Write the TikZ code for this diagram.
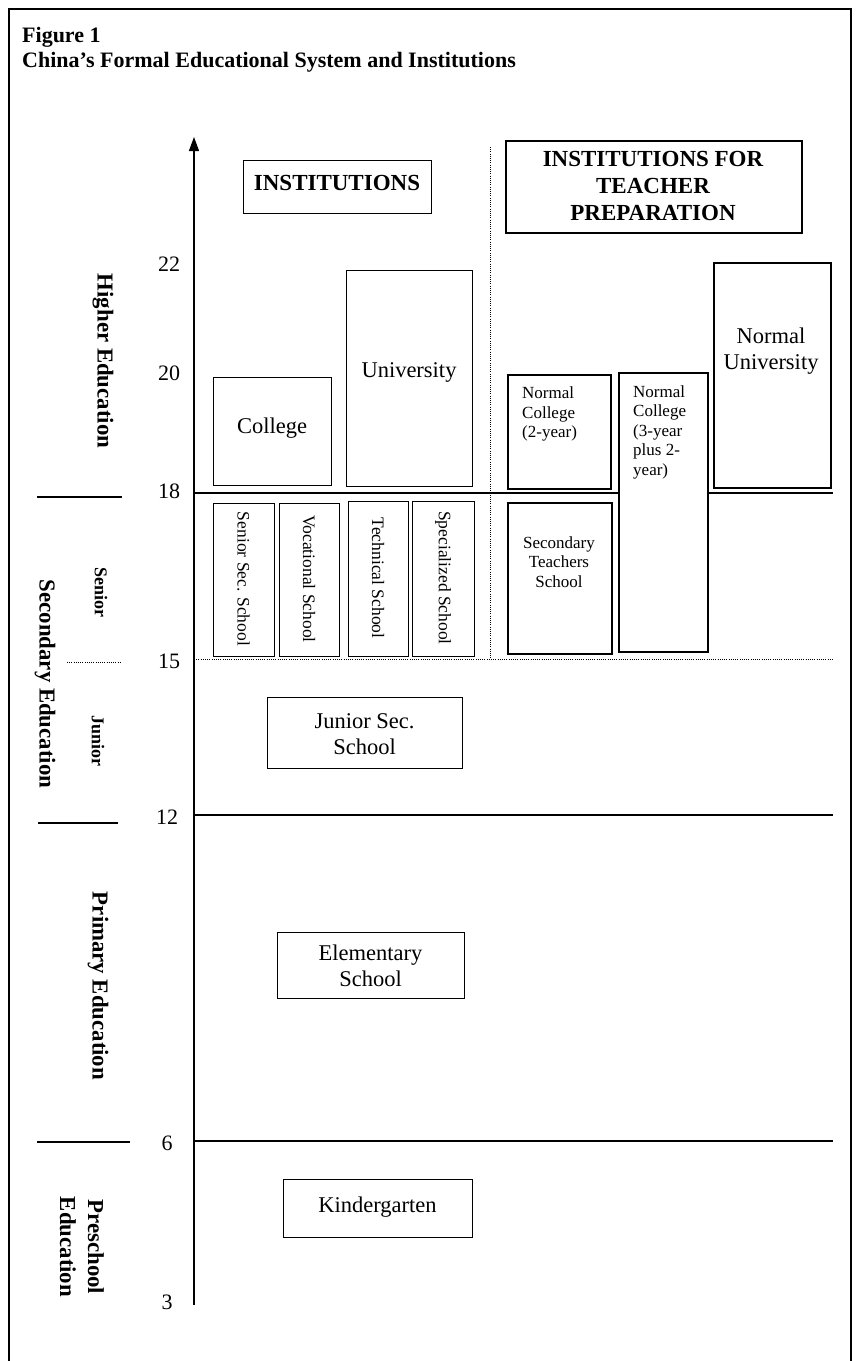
\documentclass[tikz,border=0pt]{standalone}
\usepackage{fontspec}
\setmainfont{Liberation Serif}
\usetikzlibrary{arrows.meta}
\begin{document}
\begin{tikzpicture}[x=1pt,y=-1pt,
  inst/.style={draw,line width=1.1pt,fill=white,inner sep=0pt,anchor=north west},
  tinst/.style={draw,line width=1.8pt,fill=white,inner sep=0pt,anchor=north west},
  lbl/.style={inner sep=0pt,font=\fontsize{22.5}{26}\selectfont,align=center},
  smalltxt/.style={inner sep=0pt,font=\fontsize{17}{19.5}\selectfont},
  vlbl/.style={inner sep=0pt,rotate=-90,font=\fontsize{17.5}{20}\selectfont},
  num/.style={inner sep=0pt,font=\fontsize{22}{26}\selectfont},
  side/.style={inner sep=0pt,rotate=-90,font=\bfseries\fontsize{22.8}{28}\selectfont,align=center},
  sidesm/.style={inner sep=0pt,rotate=-90,font=\bfseries\fontsize{18}{22}\selectfont},
  hdr/.style={inner sep=0pt,font=\bfseries\fontsize{23}{27}\selectfont,align=center},
  ttl/.style={inner sep=0pt,anchor=base west,font=\bfseries\fontsize{22}{26}\selectfont},
  scaleline/.style={line width=1.2pt},
  dots/.style={line width=0.9pt,dash pattern=on 1pt off 1.2pt},
]
\useasboundingbox[fill=white] (0,0) rectangle (856,1361);

% frame
\coordinate (fbl) at (9,1361);
\coordinate (ftl) at (9,9);
\coordinate (ftr) at (851,9);
\coordinate (fbr) at (851,1361);
\draw[line width=1.2pt] (fbl) -- (ftl) -- (ftr) -- (fbr);

% title
\node[ttl] (fig) at (22,42) {Figure 1};
\node[ttl] (title) at (22,67) {China’s Formal Educational System and Institutions};

% axis
\coordinate (axbot) at (194,1305);
\coordinate (axtop) at (194,137);
\draw[line width=1.2pt,-{Triangle[length=14pt,width=10pt]}] (axbot) -- (axtop);

% main scale lines
\coordinate (l18a) at (194,493); \coordinate (l18b) at (833,493);
\coordinate (l15a) at (194,659); \coordinate (l15b) at (833,659);
\coordinate (l12a) at (194,815); \coordinate (l12b) at (833,815);
\coordinate (l6a) at (194,1141); \coordinate (l6b) at (833,1141);
\draw[scaleline] (l18a) -- (l18b);
\draw[dots] (l15a) -- (l15b);
\draw[scaleline] (l12a) -- (l12b);
\draw[scaleline] (l6a) -- (l6b);
\coordinate (vda) at (490,147); \coordinate (vdb) at (490,659);
\draw[dots] (vda) -- (vdb);

% short left lines
\coordinate (s18a) at (37,497); \coordinate (s18b) at (122,497);
\coordinate (s15a) at (67,662); \coordinate (s15b) at (122,662);
\coordinate (s12a) at (38,823); \coordinate (s12b) at (118,823);
\coordinate (s6a) at (37,1142); \coordinate (s6b) at (130,1142);
\draw[scaleline] (s18a) -- (s18b);
\draw[dots] (s15a) -- (s15b);
\draw[scaleline] (s12a) -- (s12b);
\draw[scaleline] (s6a) -- (s6b);

% numbers
\node[num] (n22) at (169,264) {22};
\node[num] (n20) at (169,373) {20};
\node[num] (n18) at (169,491) {18};
\node[num] (n15) at (169,661) {15};
\node[num] (n12) at (167,817) {12};
\node[num] (n6) at (167,1143) {6};
\node[num] (n3) at (167,1302) {3};

% side labels
\node[side] (higher) at (103,361) {Higher Education};
\node[side] (secondary) at (45,684) {Secondary Education};
\node[side] (primary) at (98,986) {Primary Education};
\node[side] (preschool) at (82,1247) {Preschool\\Education};
\node[sidesm] (seniorlbl) at (101,592) {Senior};
\node[sidesm] (juniorlbl) at (98,741) {Junior};

% headers
\node[inst,minimum width=188pt,minimum height=53pt] (instbox) at (243,160) {};
\node[hdr] (instT) at (337,183) {INSTITUTIONS};
\node[tinst,minimum width=296pt,minimum height=92pt] (teachbox) at (505,140) {};
\node[hdr] (teachT) at (653,186) {INSTITUTIONS FOR\\TEACHER\\PREPARATION};

% institutions
\node[inst,minimum width=118pt,minimum height=108pt] (college) at (213,377) {};
\node[lbl] (collegeT) at (272,428) {College};
\node[inst,minimum width=126pt,minimum height=216pt] (univ) at (346,270) {};
\node[lbl] (univT) at (409,372) {University};

\node[inst,minimum width=61pt,minimum height=153pt] (sss) at (213,503) {};
\node[vlbl] (sssT) at (243.5,579) {Senior Sec. School};
\node[inst,minimum width=60pt,minimum height=153pt] (voc) at (279,503) {};
\node[vlbl] (vocT) at (309,579) {Vocational School};
\node[inst,minimum width=60pt,minimum height=155pt] (tech) at (348,501) {};
\node[vlbl] (techT) at (378,578) {Technical School};
\node[inst,minimum width=62pt,minimum height=155pt] (spec) at (412,501) {};
\node[vlbl] (specT) at (443,578) {Specialized School};

% teacher preparation
\node[tinst,minimum width=103pt,minimum height=114pt] (nc2) at (507,374) {};
\node[smalltxt,align=left,anchor=west] (nc2T) at (522,414) {Normal\\College\\(2-year)};
\node[tinst,minimum width=104pt,minimum height=151pt] (sts) at (507,502) {};
\node[smalltxt,align=center] (stsT) at (559,562) {Secondary\\Teachers\\School};
\node[tinst,minimum width=89pt,minimum height=279pt] (nc3) at (618,372) {};
\node[smalltxt,align=left,anchor=west] (nc3T) at (633,432) {Normal\\College\\(3-year\\plus 2-\\year)};
\node[tinst,minimum width=117pt,minimum height=225pt] (nu) at (713,262) {};
\node[lbl] (nuT) at (771,351) {Normal\\University};

% lower institutions
\node[inst,minimum width=195pt,minimum height=71pt] (junior) at (267,697) {};
\node[lbl] (juniorT) at (364.5,734) {Junior Sec.\\School};
\node[inst,minimum width=187pt,minimum height=66pt] (elem) at (277,932) {};
\node[lbl] (elemT) at (370.5,966) {Elementary\\School};
\node[inst,minimum width=189pt,minimum height=58pt] (kinder) at (283,1179) {};
\node[lbl] (kinderT) at (377.5,1207) {Kindergarten};
\end{tikzpicture}
\end{document}
